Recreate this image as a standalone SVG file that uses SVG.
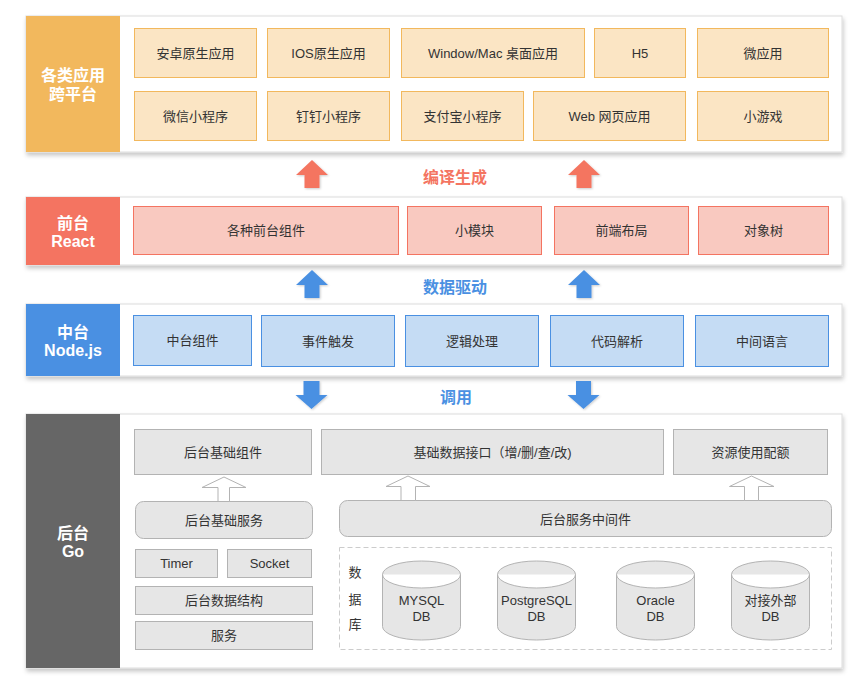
<svg xmlns="http://www.w3.org/2000/svg" width="863" height="687" viewBox="0 0 863 687">
<defs>
<filter id="sh" x="-5%" y="-10%" width="110%" height="125%">
<feDropShadow dx="1" dy="3" stdDeviation="2" flood-color="#000" flood-opacity="0.22"/>
</filter>
<filter id="ash" x="-30%" y="-30%" width="160%" height="160%">
<feDropShadow dx="1" dy="1" stdDeviation="1" flood-color="#000" flood-opacity="0.2"/>
</filter>
<style>
text{font-family:"Liberation Sans","Noto Sans CJK SC",sans-serif;dominant-baseline:central;text-anchor:middle}
.t{font-size:13px;fill:#333}
.lab{font-size:16px;font-weight:bold;fill:#fff}
.mid{font-size:16px;font-weight:bold}
.panel{fill:#fff;stroke:#dcdcdc;stroke-width:1}
.o{fill:#fbe5c4;stroke:#f2b85d;stroke-width:1}
.r{fill:#f9c9c0;stroke:#f47461;stroke-width:1}
.b{fill:#c5dcf4;stroke:#4a90e2;stroke-width:1}
.g{fill:#e6e6e6;stroke:#b3b3b3;stroke-width:1}
.cyl{fill:#e6e6e6;stroke:#b3b3b3;stroke-width:1}
.ha{fill:#fff;stroke:#b3b3b3;stroke-width:1}
</style>
</defs>

<g id="layer-apps">
<rect class="panel" x="26" y="16" width="816" height="136" filter="url(#sh)"/>
<rect x="26" y="16" width="94" height="136" fill="#f2b85d"/>
<text class="lab" x="73" y="75">各类应用</text>
<text class="lab" x="73" y="94">跨平台</text>
<g id="app-android"><rect class="o" x="134.5" y="28.5" width="122" height="49"/><text class="t" x="195.5" y="53">安卓原生应用</text></g>
<g id="app-ios"><rect class="o" x="267.5" y="28.5" width="122" height="49"/><text class="t" x="328.5" y="53">IOS原生应用</text></g>
<g id="app-desktop"><rect class="o" x="401.5" y="28.5" width="183" height="49"/><text class="t" x="493" y="53">Window/Mac 桌面应用</text></g>
<g id="app-h5"><rect class="o" x="594.5" y="28.5" width="91" height="49"/><text class="t" x="640" y="53">H5</text></g>
<g id="app-micro"><rect class="o" x="697.5" y="28.5" width="131" height="49"/><text class="t" x="763" y="53">微应用</text></g>
<g id="app-wechat"><rect class="o" x="134.5" y="91.5" width="122" height="49"/><text class="t" x="195.5" y="116">微信小程序</text></g>
<g id="app-dingtalk"><rect class="o" x="267.5" y="91.5" width="122" height="49"/><text class="t" x="328.5" y="116">钉钉小程序</text></g>
<g id="app-alipay"><rect class="o" x="401.5" y="91.5" width="122" height="49"/><text class="t" x="462.5" y="116">支付宝小程序</text></g>
<g id="app-web"><rect class="o" x="533.5" y="91.5" width="152" height="49"/><text class="t" x="609.5" y="116">Web 网页应用</text></g>
<g id="app-game"><rect class="o" x="697.5" y="91.5" width="131" height="49"/><text class="t" x="763" y="116">小游戏</text></g>
</g>

<g id="layer-front">
<rect class="panel" x="26" y="197" width="816" height="68" filter="url(#sh)"/>
<rect x="26" y="197" width="94" height="68" fill="#f47461"/>
<text class="lab" x="73" y="223">前台</text>
<text class="lab" x="73" y="241">React</text>
<g id="fe-components"><rect class="r" x="133.5" y="206.5" width="265" height="48"/><text class="t" x="266" y="230.5">各种前台组件</text></g>
<g id="fe-module"><rect class="r" x="407.5" y="206.5" width="134" height="48"/><text class="t" x="474.5" y="230.5">小模块</text></g>
<g id="fe-layout"><rect class="r" x="554.5" y="206.5" width="134" height="48"/><text class="t" x="621.5" y="230.5">前端布局</text></g>
<g id="fe-tree"><rect class="r" x="698.5" y="206.5" width="130" height="48"/><text class="t" x="763.5" y="230.5">对象树</text></g>
</g>

<g id="layer-middle">
<rect class="panel" x="26" y="304" width="816" height="72" filter="url(#sh)"/>
<rect x="26" y="304" width="94" height="72" fill="#4a90e2"/>
<text class="lab" x="73" y="332">中台</text>
<text class="lab" x="73" y="350">Node.js</text>
<g id="mid-components"><rect class="b" x="133.5" y="315.5" width="118" height="50"/><text class="t" x="192.5" y="340.5">中台组件</text></g>
<g id="mid-events"><rect class="b" x="261.5" y="315.5" width="133" height="51"/><text class="t" x="328" y="341">事件触发</text></g>
<g id="mid-logic"><rect class="b" x="405.5" y="315.5" width="133" height="51"/><text class="t" x="472" y="341">逻辑处理</text></g>
<g id="mid-parse"><rect class="b" x="550.5" y="315.5" width="133" height="51"/><text class="t" x="617" y="341">代码解析</text></g>
<g id="mid-ir"><rect class="b" x="695.5" y="315.5" width="133" height="51"/><text class="t" x="762" y="341">中间语言</text></g>
</g>

<g id="layer-back">
<rect class="panel" x="26" y="414" width="816" height="254" filter="url(#sh)"/>
<rect x="26" y="414" width="94" height="254" fill="#666666"/>
<text class="lab" x="73" y="533">后台</text>
<text class="lab" x="73" y="551">Go</text>
<g id="be-components"><rect class="g" x="134.5" y="429.5" width="177" height="45"/><text class="t" x="223" y="452">后台基础组件</text></g>
<g id="be-api"><rect class="g" x="321.5" y="429.5" width="342" height="45"/><text class="t" x="492.5" y="452">基础数据接口（增/删/查/改)</text></g>
<g id="be-quota"><rect class="g" x="673.5" y="429.5" width="154" height="45"/><text class="t" x="750.5" y="452">资源使用配额</text></g>
<g id="be-service"><rect class="g" x="135.5" y="501.5" width="177" height="37" rx="8"/><text class="t" x="224" y="520">后台基础服务</text></g>
<g id="be-middleware"><rect class="g" x="339.5" y="500.5" width="492" height="36" rx="8"/><text class="t" x="585.5" y="519">后台服务中间件</text></g>
<g id="be-timer"><rect class="g" x="135.5" y="549.5" width="82" height="28"/><text class="t" x="176.5" y="563.5">Timer</text></g>
<g id="be-socket"><rect class="g" x="227.5" y="549.5" width="84" height="28"/><text class="t" x="269.5" y="563.5">Socket</text></g>
<g id="be-struct"><rect class="g" x="135.5" y="586.5" width="177" height="28"/><text class="t" x="224" y="600.5">后台数据结构</text></g>
<g id="be-svc"><rect class="g" x="135.5" y="621.5" width="177" height="28"/><text class="t" x="224" y="635.5">服务</text></g>
<g id="db-group">
<rect x="339.5" y="547.5" width="492" height="102" fill="none" stroke="#cccccc" stroke-dasharray="5,3"/>
<text class="t" x="355" y="572">数</text>
<text class="t" x="355" y="599">据</text>
<text class="t" x="355" y="624">库</text>
</g>
<g id="db-mysql">
<path class="cyl" d="M382.5,574.5 A39,13.5 0 0 1 460.5,574.5 L460.5,626.5 A39,13.5 0 0 1 382.5,626.5 Z M382.5,574.5 A39,13.5 0 0 0 460.5,574.5"/>
<text class="t" x="421.5" y="600">MYSQL</text><text class="t" x="421.5" y="616">DB</text>
</g>
<g id="db-postgres">
<path class="cyl" d="M497.5,574.5 A39,13.5 0 0 1 575.5,574.5 L575.5,626.5 A39,13.5 0 0 1 497.5,626.5 Z M497.5,574.5 A39,13.5 0 0 0 575.5,574.5"/>
<text class="t" x="536.5" y="600">PostgreSQL</text><text class="t" x="536.5" y="616">DB</text>
</g>
<g id="db-oracle">
<path class="cyl" d="M616.5,574.5 A39,13.5 0 0 1 694.5,574.5 L694.5,626.5 A39,13.5 0 0 1 616.5,626.5 Z M616.5,574.5 A39,13.5 0 0 0 694.5,574.5"/>
<text class="t" x="655.5" y="600">Oracle</text><text class="t" x="655.5" y="616">DB</text>
</g>
<g id="db-external">
<path class="cyl" d="M731.5,574.5 A39,13.5 0 0 1 809.5,574.5 L809.5,626.5 A39,13.5 0 0 1 731.5,626.5 Z M731.5,574.5 A39,13.5 0 0 0 809.5,574.5"/>
<text class="t" x="770.5" y="600">对接外部</text><text class="t" x="770.5" y="616">DB</text>
</g>
</g>

<g id="connectors">
<g fill="#f47461" filter="url(#ash)">
<path d="M312,160 L328,175 L319.5,175 L319.5,188 L304.5,188 L304.5,175 L296,175 Z"/>
<path d="M584,160 L600,175 L591.5,175 L591.5,188 L576.5,188 L576.5,175 L568,175 Z"/>
</g>
<text class="mid" x="455" y="177" fill="#f47461">编译生成</text>
<g fill="#4a90e2" filter="url(#ash)">
<path d="M312,270 L328,285 L319.5,285 L319.5,298 L304.5,298 L304.5,285 L296,285 Z"/>
<path d="M584,270 L600,285 L591.5,285 L591.5,298 L576.5,298 L576.5,285 L568,285 Z"/>
</g>
<text class="mid" x="455" y="287" fill="#4a90e2">数据驱动</text>
<g fill="#4a90e2" filter="url(#ash)">
<path d="M303.5,381 L319.5,381 L319.5,395 L327.5,395 L311.5,409 L295.5,395 L303.5,395 Z"/>
<path d="M576,381 L591,381 L591,395 L599.5,395 L583.5,409 L567.5,395 L576,395 Z"/>
</g>
<text class="mid" x="456" y="397" fill="#4a90e2">调用</text>
<path class="ha" d="M224,477 L246,487.5 L229.5,487.5 L229.5,501.5 L218,501.5 L218,487.5 L202,487.5 Z"/>
<path class="ha" d="M408,476 L430,486.5 L415.5,486.5 L415.5,500.5 L401,500.5 L401,486.5 L386,486.5 Z"/>
<path class="ha" d="M751.5,476 L774,486.5 L758.5,486.5 L758.5,500.5 L744.5,500.5 L744.5,486.5 L729.5,486.5 Z"/>
</g>
</svg>
